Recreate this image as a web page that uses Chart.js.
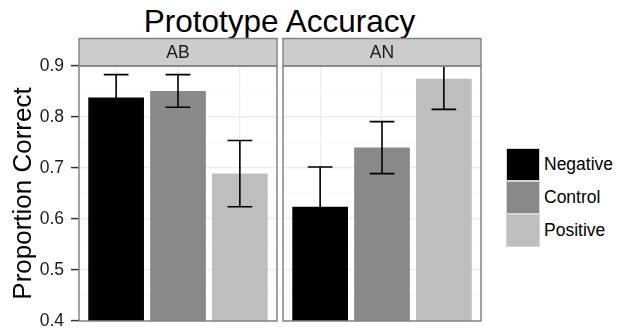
<!DOCTYPE html>
<html>
<head>
<meta charset="utf-8">
<script src="https://cdn.jsdelivr.net/npm/chart.js@4"></script>
<style>
  html, body { margin: 0; padding: 0; background: #fff; }
  body { width: 618px; height: 333px; position: relative; overflow: hidden;
         font-family: "Liberation Sans", Arial, sans-serif; }
  canvas { position: absolute; top: 0; }
  #cA { left: 0; }
  #cB { left: 278px; }
  #title { position: absolute; left: 0; width: 559px; top: 6px; text-align: center;
           font-size: 31.5px; line-height: 31px; color: #000; }
  #legend { position: absolute; left: 506px; top: 148px; }
  .row { display: flex; align-items: center; height: 33px; }
  .key { width: 34px; height: 33px; box-sizing: border-box; border: 1px solid #d4d4d4; }
  .lab { margin-left: 4px; font-size: 17.5px; color: #000; }
</style>
</head>
<body>
<div id="title">Prototype Accuracy</div>
<canvas id="cA" width="290" height="333"></canvas>
<canvas id="cB" width="209" height="333"></canvas>
<div id="legend"></div>
<script>
const groups = ['Negative', 'Control', 'Positive'];
const fills = ['#000000', '#898989', '#bebebe'];
const panels = ['AB', 'AN'];
const abMeans = [0.838, 0.851, 0.689];
const abErrs = [0.045, 0.032, 0.065];
const anMeans = [0.624, 0.740, 0.875];
const anErrs = [0.078, 0.051, 0.060];
const yTicks = [0.4, 0.45, 0.5, 0.55, 0.6, 0.65, 0.7, 0.75, 0.8, 0.85, 0.9];

const FONT = '"Liberation Sans", Arial, sans-serif';
const isMajor = v => Math.round(v * 100) % 10 === 0;

// legend
const legend = document.getElementById('legend');
groups.forEach((g, i) => {
    const row = document.createElement('div');
    row.className = 'row';
    row.innerHTML = '<div class="key" style="background:' + fills[i] + '"></div><span class="lab">' + g + '</span>';
    legend.appendChild(row);
});

// error bars, clipped to the panel
const errorBars = {
    id: 'errorBars',
    afterDatasetsDraw(chart, args, opts) {
        const {ctx, chartArea, scales: {x, y}} = chart;
        ctx.save();
        ctx.beginPath();
        ctx.rect(chartArea.left, chartArea.top, chartArea.width, chartArea.height);
        ctx.clip();
        ctx.strokeStyle = '#000';
        ctx.lineWidth = 1.6;
        opts.means.forEach((m, i) => {
            const cx = x.getPixelForValue(i + 1);
            const half = (x.getPixelForValue(i + 1.2) - x.getPixelForValue(i + 0.8)) / 2;
            const top = y.getPixelForValue(m + opts.errs[i]);
            const bot = y.getPixelForValue(m - opts.errs[i]);
            ctx.beginPath();
            ctx.moveTo(cx, top); ctx.lineTo(cx, bot);
            ctx.moveTo(cx - half, top); ctx.lineTo(cx + half, top);
            ctx.moveTo(cx - half, bot); ctx.lineTo(cx + half, bot);
            ctx.stroke();
        });
        ctx.restore();
    }
};

// facet strip + panel border
const panelFrame = {
    id: 'panelFrame',
    afterDatasetsDraw(chart, args, opts) {
        const {ctx, chartArea: a} = chart;
        ctx.save();
        ctx.fillStyle = '#cccccc';
        ctx.strokeStyle = '#858585';
        ctx.lineWidth = 1.5;
        ctx.fillRect(a.left, 38.5, a.width, a.top - 38.5);
        ctx.strokeRect(a.left, 38.5, a.width, a.top - 38.5);
        ctx.strokeRect(a.left, a.top, a.width, a.height);
        ctx.fillStyle = '#1a1a1a';
        ctx.font = '17.5px ' + FONT;
        ctx.textAlign = 'center';
        ctx.textBaseline = 'middle';
        ctx.fillText(opts.label, (a.left + a.right) / 2, (38.5 + a.top) / 2 + 1);
        ctx.restore();
    }
};

function makeChart(id, label, means, errs, withAxis, padding) {
    return new Chart(document.getElementById(id), {
        type: 'bar',
        data: {
            datasets: [{
                data: groups.map((g, i) => ({x: i + 1, y: means[i]})),
                backgroundColor: fills,
                borderWidth: 0,
                barPercentage: 0.9,
                categoryPercentage: 1
            }]
        },
        options: {
            responsive: false,
            animation: false,
            layout: {padding: padding},
            plugins: {
                legend: {display: false},
                tooltip: {enabled: false},
                errorBars: {means: means, errs: errs},
                panelFrame: {label: label}
            },
            scales: {
                x: {
                    type: 'linear', min: 0.4, max: 3.6,
                    offset: false,
                    afterBuildTicks: s => { s.ticks = groups.map((g, i) => ({value: i + 1})); },
                    ticks: {display: false},
                    grid: {color: '#ebebeb', lineWidth: 1.2, drawTicks: false, offset: false},
                    border: {display: false}
                },
                y: {
                    min: 0.4, max: 0.9,
                    afterBuildTicks: s => { s.ticks = yTicks.map(v => ({value: v})); },
                    afterFit: s => {
                        if (withAxis) s.width = 79;
                        s.paddingTop = 0;
                        s.paddingBottom = 0;
                    },
                    ticks: {
                        display: withAxis,
                        autoSkip: false,
                        padding: 7,
                        color: '#1a1a1a',
                        font: {size: 17.5, family: FONT},
                        callback: v => isMajor(v) ? v.toFixed(1) : ''
                    },
                    grid: {
                        color: c => isMajor(c.tick.value) ? '#ebebeb' : '#f7f7f7',
                        lineWidth: c => isMajor(c.tick.value) ? 1.2 : 0.8,
                        drawTicks: withAxis,
                        tickLength: 8,
                        tickWidth: 1.5,
                        tickColor: c => isMajor(c.tick.value) ? '#333333' : 'rgba(0,0,0,0)'
                    },
                    border: {display: false},
                    title: {
                        display: withAxis,
                        text: 'Proportion Correct',
                        color: '#000',
                        font: {size: 26, family: FONT},
                        padding: {top: 8, bottom: 0}
                    }
                }
            }
        },
        plugins: [errorBars, panelFrame]
    });
}

makeChart('cA', panels[0], abMeans, abErrs, true, {top: 66, bottom: 12, left: 0, right: 13});
makeChart('cB', panels[1], anMeans, anErrs, false, {top: 66, bottom: 12, left: 5, right: 6});
</script>
</body>
</html>
